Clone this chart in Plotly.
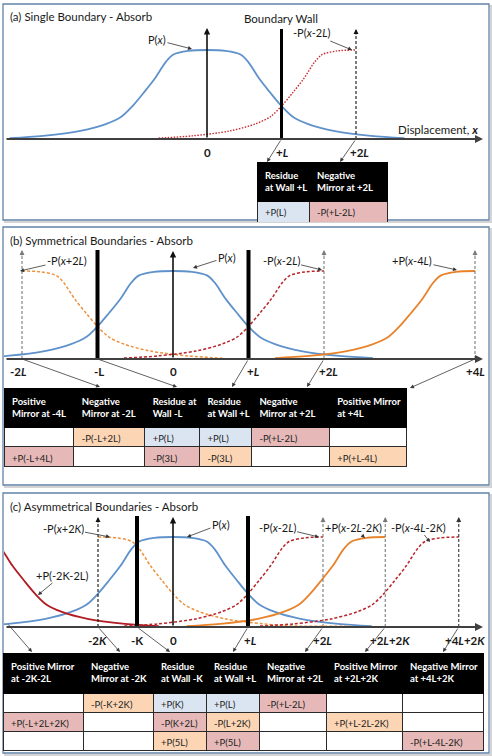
import plotly.graph_objects as go

W, H = 492, 756
FONT = "Lato"

# ---------------- DATA ----------------
# shape of P(x): offset from its centre (units of L) and relative height
prof_off = [0.0, 0.25, 0.45, 0.55, 0.70, 0.85, 1.00, 1.15, 1.35, 1.70, 2.20, 2.65]
prof_h = [1.00, 0.99, 0.95, 0.87, 0.68, 0.52, 0.37, 0.25, 0.17, 0.09, 0.035, 0.01]

# panel (a) - single boundary
a_tick_pos = [0.0, 1.0, 2.0]
a_tick_txt = ["<b>0</b>", "<b>+<i>L</i></b>", "<b>+2<i>L</i></b>"]
a_centres = [0.0, 2.0]
a_sides = ["both", "left"]
a_labels = ["P(<i>x</i>)", "-P(<i>x</i>-2<i>L</i>)"]
a_header = ["<b>Residue<br>at Wall +L</b>", "<b>Negative<br>Mirror at +2L</b>"]
a_cells = [["+P(L)"], ["-P(+L-2L)"]]
a_fill = [["B"], ["R"]]

# panel (b) - symmetrical boundaries
b_tick_pos = [-2.0, -1.0, 0.0, 1.0, 2.0, 4.0]
b_tick_txt = ["<b>-2<i>L</i></b>", "<b>-L</b>", "<b>0</b>", "<b>+<i>L</i></b>",
              "<b>+2<i>L</i></b>", "<b>+4<i>L</i></b>"]
b_centres = [0.0, -2.0, 2.0, 4.0]
b_sides = ["both", "right", "left", "left"]
b_labels = ["P(<i>x</i>)", "-P(<i>x</i>+2<i>L</i>)", "-P(<i>x</i>-2<i>L</i>)", "+P(<i>x</i>-4<i>L</i>)"]
b_header = ["<b>Positive<br>Mirror at -4L</b>", "<b>Negative<br>Mirror at -2L</b>",
            "<b>Residue at<br>Wall -L</b>", "<b>Residue<br>at Wall +L</b>",
            "<b>Negative<br>Mirror at +2L</b>", "<b>Positive Mirror<br>at +4L</b>"]
b_cells = [["", "+P(-L+4L)"], ["-P(-L+2L)", ""], ["+P(L)", "-P(3L)"],
           ["+P(L)", "-P(3L)"], ["-P(+L-2L)", ""], ["", "+P(+L-4L)"]]
b_fill = [["W", "R"], ["O", "W"], ["B", "R"], ["B", "O"], ["R", "W"], ["W", "O"]]

# panel (c) - asymmetrical boundaries (units of L, K = L/2)
c_tick_pos = [-1.0, -0.48, 0.0, 1.0, 2.0, 2.83, 3.81]
c_tick_txt = ["<b>-2<i>K</i></b>", "<b>-K</b>", "<b>0</b>", "<b>+<i>L</i></b>", "<b>+2<i>L</i></b>",
              "<b>+2<i>L</i>+2<i>K</i></b>", "<b>+4<i>L</i>+2<i>K</i></b>"]
c_centres = [0.0, -1.0, -2.84, 2.0, 2.83, 3.81]
c_sides = ["both", "right", "right", "left", "left", "left"]
c_tails = [None, 3.36, None, None, None, None]
c_labels = ["P(<i>x</i>)", "-P(<i>x</i>+2<i>K</i>)", "+P(-2K-2L)", "-P(<i>x</i>-2<i>L</i>)",
            "+P(<i>x</i>-2<i>L</i>-2<i>K</i>)", "-P(<i>x</i>-4<i>L</i>-2<i>K</i>)"]
c_header = ["<b>Positive Mirror<br>at -2K-2L</b>", "<b>Negative<br>Mirror at -2K</b>",
            "<b>Residue<br>at Wall -K</b>", "<b>Residue<br>at Wall +L</b>",
            "<b>Negative<br>Mirror at +2L</b>", "<b>Positive Mirror<br>at +2L+2K</b>",
            "<b>Negative Mirror<br>at +4L+2K</b>"]
c_cells = [["", "+P(-L+2L+2K)", ""], ["-P(-K+2K)", "", ""], ["+P(K)", "-P(K+2L)", "+P(5L)"],
           ["+P(L)", "-P(L+2K)", "+P(5L)"], ["-P(+L-2L)", "", ""], ["", "+P(+L-2L-2K)", ""],
           ["", "", "-P(+L-4L-2K)"]]
c_fill = [["W", "R", "W"], ["O", "W", "W"], ["B", "R", "O"], ["B", "O", "R"],
          ["R", "W", "W"], ["W", "O", "W"], ["W", "W", "R"]]

# ---------------- STYLE / LAYOUT ----------------
FILLS = {"W": "#ffffff", "B": "#dbe5f1", "R": "#e6b9b8", "O": "#fcd5b4"}
BLUE = "#5f92cb"
RED = "#b8262b"
ORANGE = "#ef9240"
DASH = "3px,2px"

PANELS = {
    "a": dict(xa="x", ya="y", x0=4, x1=488, y0=6, y1=219, zero=207, lpx=74.5, base=139, hpx=89),
    "b": dict(xa="x2", ya="y2", x0=4, x1=488, y0=228, y1=484, zero=173, lpx=75.5, base=359, hpx=88),
    "c": dict(xa="x3", ya="y3", x0=4, x1=488, y0=494, y1=752, zero=173, lpx=75, base=627, hpx=90),
}


def X(p, px):
    return (px - p["zero"]) / p["lpx"]


def Y(p, py):
    return (p["base"] - py) / p["hpx"]


def curve(centre, side, tail=None):
    if side == "both":
        offs = [-o for o in prof_off[::-1]] + prof_off[1:]
        hs = prof_h[::-1] + prof_h[1:]
    elif side == "left":
        offs = [-o for o in prof_off[::-1]]
        hs = prof_h[::-1]
    else:
        offs = list(prof_off)
        hs = list(prof_h)
        if tail is not None:
            offs.append(tail)
            hs.append(0.01)
    return [centre + o for o in offs], hs


fig = go.Figure()
shapes = []
ann = []


def pax(px):
    return px / W


def pay(py):
    return 1 - py / H


# panel frames
frames = [(3, 4, 489, 220), (3, 227, 489, 485), (3, 493, 489, 753)]
for (x0, y0, x1, y1) in frames:
    shapes.append(dict(type="rect", xref="paper", yref="paper", x0=pax(x0 + 2), x1=pax(x1 + 2),
                       y0=pay(y1 + 2), y1=pay(y0 + 2), line=dict(color="#d4d4d4", width=2),
                       layer="below"))
    shapes.append(dict(type="rect", xref="paper", yref="paper", x0=pax(x0), x1=pax(x1),
                       y0=pay(y1), y1=pay(y0), line=dict(color="#6283ab", width=1.3),
                       fillcolor="white", layer="below"))

layout_axes = {}
for key, p in PANELS.items():
    n = "" if key == "a" else ("2" if key == "b" else "3")
    layout_axes["xaxis" + n] = dict(domain=[pax(p["x0"]), pax(p["x1"])],
                                    range=[X(p, p["x0"]), X(p, p["x1"])], visible=False,
                                    anchor="y" + n, fixedrange=True)
    layout_axes["yaxis" + n] = dict(domain=[pay(p["y1"]), pay(p["y0"])],
                                    range=[Y(p, p["y1"]), Y(p, p["y0"])], visible=False,
                                    anchor="x" + n, fixedrange=True)


def add_curve(p, centre, side, color, dash, width, tail=None):
    xs, ys = curve(centre, side, tail)
    fig.add_trace(go.Scatter(x=xs, y=ys, mode="lines", xaxis=p["xa"], yaxis=p["ya"],
                             line=dict(color=color, dash=dash, width=width, shape="spline",
                                       smoothing=0.9),
                             hoverinfo="skip", showlegend=False))


def text(p, s, px, py, size=11, xanchor="center"):
    ann.append(dict(xref=p["xa"], yref=p["ya"], x=X(p, px), y=Y(p, py), text=s,
                    showarrow=False, xanchor=xanchor, yanchor="middle",
                    font=dict(family=FONT, size=size, color="#1a1a1a")))


def label_arrow(p, s, cx, cy, tx, ty, size=11):
    ann.append(dict(xref=p["xa"], yref=p["ya"], axref=p["xa"], ayref=p["ya"],
                    x=X(p, tx), y=Y(p, ty), ax=X(p, cx), ay=Y(p, cy), text=s,
                    showarrow=True, arrowhead=2, arrowsize=1, arrowwidth=0.8,
                    arrowcolor="#333333", standoff=0,
                    font=dict(family=FONT, size=size, color="#1a1a1a")))


def line_arrow(p, x_from, y_from, x_to, y_to, color="#3a3a3a", width=0.8, size=1.0):
    ann.append(dict(xref=p["xa"], yref=p["ya"], axref=p["xa"], ayref=p["ya"],
                    x=x_to, y=y_to, ax=x_from, ay=y_from, text="", showarrow=True,
                    arrowhead=2, arrowsize=size, arrowwidth=width, arrowcolor=color,
                    standoff=0, startstandoff=0))


def axis(p):
    line_arrow(p, X(p, 5), 0, X(p, 483), 0, color="#404040", width=2, size=0.8)


def zero_arrow(p, top_py):
    line_arrow(p, 0, 0, 0, Y(p, top_py), color="#111111", width=1.6, size=0.8)


def wall(p, xv, top_py, width):
    shapes.append(dict(type="line", xref=p["xa"], yref=p["ya"], x0=xv, x1=xv, y0=0,
                       y1=Y(p, top_py), line=dict(color="black", width=width)))


def dashed(p, xv, top_py, color):
    shapes.append(dict(type="line", xref=p["xa"], yref=p["ya"], x0=xv, x1=xv, y0=0,
                       y1=Y(p, top_py + 3), line=dict(color=color, width=1.1, dash="3px,2px")))
    ann.append(dict(xref=p["xa"], yref=p["ya"], x=xv, y=Y(p, top_py), ax=0, ay=7,
                    text="", showarrow=True, arrowhead=2, arrowsize=0.9, arrowwidth=1.1,
                    arrowcolor=color, standoff=0))


def table(x0, x1, top, bottom, widths, header, cells, fills, hh, ch, fs=9.5):
    fig.add_trace(go.Table(
        domain=dict(x=[pax(x0), pax(x1)], y=[pay(bottom), pay(top)]),
        columnwidth=widths,
        header=dict(values=header, fill_color="black", align="left", height=hh,
                    line=dict(color="black", width=1),
                    font=dict(family=FONT, size=fs, color="white")),
        cells=dict(values=cells, fill_color=[[FILLS[f] for f in col] for col in fills],
                   align="left", height=ch, line=dict(color="#2a2a2a", width=1),
                   font=dict(family=FONT, size=fs, color="#222222"))))


# ---------------- PANEL A ----------------
A = PANELS["a"]
add_curve(A, a_centres[0], a_sides[0], BLUE, "solid", 1.8)
add_curve(A, a_centres[1], a_sides[1], "#c9282d", "1.5px,1.5px", 1.4)
axis(A)
zero_arrow(A, 28)
wall(A, a_tick_pos[1], 29, 3)
dashed(A, a_tick_pos[2], 29, "#111111")
text(A, "(a) Single Boundary - Absorb", 8, 17, size=11.5, xanchor="left")
text(A, "Boundary Wall", 281, 19, size=11.5)
text(A, "Displacement, <b><i>x</i></b>", 480, 130, size=11.5, xanchor="right")
label_arrow(A, a_labels[0], 157, 40, 192, 49)
label_arrow(A, a_labels[1], 311, 33, 352, 50)
for pos, t, px in zip(a_tick_pos, a_tick_txt, [207, 282, 359]):
    text(A, t, px, 153, size=11.5)
for pos, tip in zip(a_tick_pos[1:], [(267, 162), (340, 162)]):
    line_arrow(A, pos, 0, X(A, tip[0]), Y(A, tip[1]))
table(257, 387, 162, 222, [52, 78], a_header, a_cells, a_fill, 26, 28)

# ---------------- PANEL B ----------------
B = PANELS["b"]
add_curve(B, b_centres[0], b_sides[0], BLUE, "solid", 1.8)
add_curve(B, b_centres[1], b_sides[1], ORANGE, DASH, 1.5)
add_curve(B, b_centres[2], b_sides[2], RED, DASH, 1.5)
add_curve(B, b_centres[3], b_sides[3], "#e8832c", "solid", 1.8)
axis(B)
zero_arrow(B, 251)
wall(B, b_tick_pos[1], 250, 4)
wall(B, b_tick_pos[3], 250, 4)
for xv in (b_tick_pos[0], b_tick_pos[4], b_tick_pos[5]):
    dashed(B, xv, 250, "#7a7a7a")
text(B, "(b) Symmetrical Boundaries - Absorb", 8, 240, size=11.5, xanchor="left")
label_arrow(B, b_labels[1], 67, 260, 20, 271)
label_arrow(B, b_labels[0], 227, 257, 193, 268)
label_arrow(B, b_labels[2], 281, 260, 322, 270)
label_arrow(B, b_labels[3], 412, 260, 457, 270)
for t, px in zip(b_tick_txt, [18, 99, 173, 253, 328, 475]):
    text(B, t, px, 371, size=11.5)
for pos, tip in zip([b_tick_pos[i] for i in (0, 1, 3, 4, 5)],
                    [(100, 387), (177, 387), (232, 387), (307, 387), (410, 388)]):
    line_arrow(B, pos, 0, X(B, tip[0]), Y(B, tip[1]))
table(4, 408, 388, 470, [70, 71, 55, 52, 78, 78], b_header, b_cells, b_fill, 35, 19.5)

# ---------------- PANEL C ----------------
C = PANELS["c"]
c_styles = [(BLUE, "solid", 1.8), (ORANGE, DASH, 1.5), ("#b01c22", "solid", 1.8),
            (RED, DASH, 1.5), ("#e8832c", "solid", 1.8), (RED, DASH, 1.5)]
for cen, side, tail, sty in zip(c_centres, c_sides, c_tails, c_styles):
    add_curve(C, cen, side, sty[0], sty[1], sty[2], tail)
axis(C)
zero_arrow(C, 517)
wall(C, c_tick_pos[1], 516, 4)
wall(C, c_tick_pos[3], 516, 4)
for xv, col in zip([c_tick_pos[0], c_tick_pos[4], c_tick_pos[5], c_tick_pos[6]],
                   ["#111111", "#7a7a7a", "#7a7a7a", "#333333"]):
    dashed(C, xv, 517, col)
text(C, "(c) Asymmetrical Boundaries - Absorb", 8, 506, size=11.5, xanchor="left")
label_arrow(C, c_labels[1], 63, 528, 110, 537)
label_arrow(C, c_labels[0], 221, 524, 187, 537)
label_arrow(C, c_labels[2], 62, 575, 38, 595)
label_arrow(C, c_labels[3], 277, 527, 319, 537)
label_arrow(C, c_labels[4], 353, 527, 365, 538)
label_arrow(C, c_labels[5], 418, 527, 430, 542)
for t, px in zip(c_tick_txt, [97, 137, 173, 250, 322, 390, 465]):
    text(C, t, px, 640, size=11.5)
line_arrow(C, X(C, 7), Y(C, 623), X(C, 32), Y(C, 652))
for pos, tip in zip(c_tick_pos, [(120, 652), (170, 652), (None, None), (233, 652), (305, 652),
                                 (365, 652), (443, 652)]):
    if tip[0] is not None:
        line_arrow(C, pos, 0, X(C, tip[0]), Y(C, tip[1]))
table(3, 483, 653, 755, [80, 70, 53, 53, 67, 76, 81], c_header, c_cells, c_fill, 40, 19)

fig.update_layout(width=W, height=H, margin=dict(l=0, r=0, t=0, b=0),
                  paper_bgcolor="white", plot_bgcolor="rgba(0,0,0,0)",
                  showlegend=False, shapes=shapes, annotations=ann,
                  font=dict(family=FONT), **layout_axes)
fig.write_html("out.html", config={"displayModeBar": False})
